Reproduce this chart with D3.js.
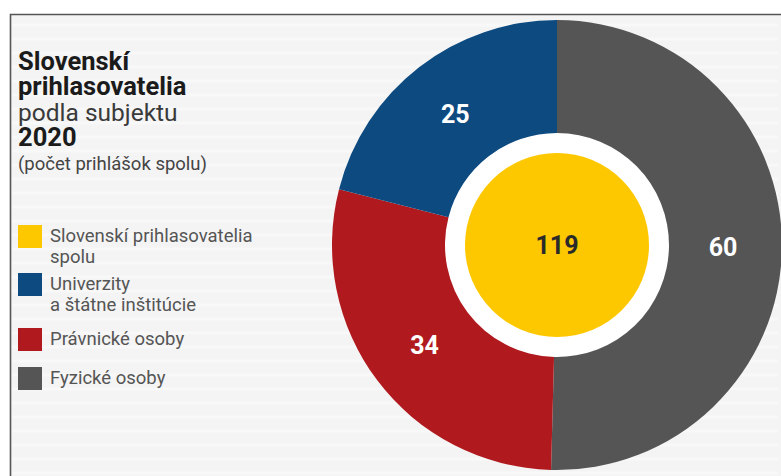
<!DOCTYPE html>
<html>
<head>
<meta charset="utf-8">
<script src="https://cdn.jsdelivr.net/npm/d3@7"></script>
<style>
  body { margin: 0; background: #fff; }
  svg { display: block; font-family: Roboto, "Noto Sans", sans-serif; }
</style>
</head>
<body>
<svg id="chart" width="781" height="476"></svg>
<script>
// data
var categories = ["Fyzické osoby", "Právnické osoby", "Univerzity a štátne inštitúcie"];
var values = [60, 34, 25];
var totalLabel = "Slovenskí prihlasovatelia spolu";
var totalValue = 119;

var legendLabels = [
  ["Slovenskí prihlasovatelia", "spolu"],
  ["Univerzity", "a štátne inštitúcie"],
  ["Právnické osoby"],
  ["Fyzické osoby"]
];
var titleLines = [
  {text: "Slovenskí", bold: true},
  {text: "prihlasovatelia", bold: true},
  {text: "podla subjektu", bold: false},
  {text: "2020", bold: true}
];
var subtitle = "(počet prihlášok spolu)";

var colors = {
  "Fyzické osoby": "#555555",
  "Právnické osoby": "#b01a1e",
  "Univerzity a štátne inštitúcie": "#0c4a80",
  total: "#fdc800"
};

var svg = d3.select("#chart");

/****** frame ******/
svg.append("rect")
   .attr("x", 10).attr("y", 14)
   .attr("width", 781).attr("height", 476)
   .attr("fill", "#f4f4f4");

// faint texture
var tex = svg.append("g").attr("opacity", 0.6);
for (var ty = 20; ty < 476; ty += 14) {
  var pts = [];
  for (var tx = 10; tx < 790; tx += 16) {
    pts.push([tx, ty + ((tx / 16) % 2 ? 5 : 0)]);
  }
  tex.append("path")
     .attr("d", d3.line()(pts))
     .attr("fill", "none")
     .attr("stroke", "#fcfcfc")
     .attr("stroke-width", 3);
}

svg.append("path")
   .attr("d", "M10.5,476 L10.5,14.5 L781,14.5")
   .attr("fill", "none")
   .attr("stroke", "#555")
   .attr("stroke-width", 1.6);

/****** title ******/
var titleY = [70, 95, 121, 146];
var title = svg.append("g").attr("transform", "translate(18,0)");
title.selectAll("text.t")
     .data(titleLines)
     .enter().append("text")
     .attr("class", "t")
     .attr("x", 0)
     .attr("y", function (d, i) { return titleY[i]; })
     .attr("font-size", function (d) { return d.bold ? 25.5 : 24.5; })
     .attr("font-weight", function (d) { return d.bold ? 700 : 400; })
     .attr("fill", function (d) { return d.bold ? "#1b1b1b" : "#3a3a3a"; })
     .text(function (d) { return d.text; });

title.append("text")
     .attr("x", 0).attr("y", 170)
     .attr("font-size", 18.5)
     .attr("fill", "#444")
     .text(subtitle);

/****** legend ******/
var legendColors = [colors.total, colors[categories[2]], colors[categories[1]], colors[categories[0]]];
var legendTop = [225, 273, 328, 367];

var legend = svg.append("g");
var item = legend.selectAll("g.item")
     .data(legendLabels)
     .enter().append("g")
     .attr("class", "item")
     .attr("transform", function (d, i) { return "translate(18," + legendTop[i] + ")"; });

item.append("rect")
    .attr("width", 24).attr("height", 23)
    .attr("fill", function (d, i) { return legendColors[i]; });

item.selectAll("text")
    .data(function (d) { return d; })
    .enter().append("text")
    .attr("x", 32)
    .attr("y", function (d, j) { return 17 + j * 21; })
    .attr("font-size", 18.5)
    .attr("fill", "#555")
    .text(function (d) { return d; });

/****** donut ******/
var cx = 557, cy = 245,
    outerR = 225, innerR = 112, coreR = 92, labelR = 166;

var pie = d3.pie().sort(null).value(function (d) { return d; });
var arc = d3.arc().innerRadius(innerR).outerRadius(outerR);
var labelArc = d3.arc().innerRadius(labelR).outerRadius(labelR);

var donut = svg.append("g").attr("transform", "translate(" + cx + "," + cy + ")");

donut.append("circle").attr("r", innerR).attr("fill", "#fff");

var slices = pie(values);
donut.selectAll("path.slice")
     .data(slices)
     .enter().append("path")
     .attr("class", "slice")
     .attr("d", arc)
     .attr("fill", function (d, i) { return colors[categories[i]]; });

donut.selectAll("text.val")
     .data(slices)
     .enter().append("text")
     .attr("class", "val")
     .attr("transform", function (d) { return "translate(" + labelArc.centroid(d) + ")"; })
     .attr("text-anchor", "middle")
     .attr("dy", "0.36em")
     .attr("font-size", 25)
     .attr("font-weight", 700)
     .attr("fill", "#fff")
     .text(function (d) { return d.value; });

donut.append("circle").attr("r", coreR).attr("fill", colors.total)
     .append("title").text(totalLabel);

donut.append("text")
     .attr("text-anchor", "middle")
     .attr("dy", "0.36em")
     .attr("font-size", 25)
     .attr("font-weight", 700)
     .attr("fill", "#2a2a2a")
     .text(totalValue);
</script>
</body>
</html>
